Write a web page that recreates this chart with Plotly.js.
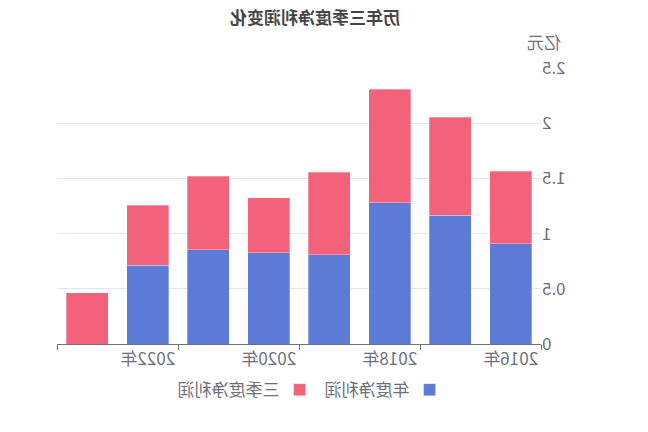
<!DOCTYPE html>
<html>
<head>
<meta charset="utf-8">
<script src="https://cdn.plot.ly/plotly-3.0.1.min.js"></script>
<style>
  html, body { margin: 0; padding: 0; background: #fff; }
  #chart { width: 648px; height: 432px; transform: scaleX(-1); }
</style>
</head>
<body>
<div id="chart"></div>
<script>
const years = ['2016年','2017年','2018年','2019年','2020年','2021年','2022年','2023年'];
const annualProfit = [0.909, 1.164, 1.279, 0.809, 0.827, 0.855, 0.712, null];
const q3Profit = [0.655, 0.891, 1.030, 0.746, 0.500, 0.663, 0.543, 0.464];
const yTicks = [0, 0.5, 1, 1.5, 2, 2.5];
const yTickText = ['0', '0.5', '1', '1.5', '2', '2.5'];

const font = '"Noto Sans CJK SC", "Noto Sans", sans-serif';

const traces = [
  { type: 'bar', name: '年度净利润', x: years, y: annualProfit,
    marker: { color: '#5b7bd6', line: { color: 'rgba(255,255,255,0.5)', width: 0.6 } }, hoverinfo: 'skip' },
  { type: 'bar', name: '三季度净利润', x: years, y: q3Profit,
    marker: { color: '#f2627b', line: { color: 'rgba(255,255,255,0.5)', width: 0.6 } }, hoverinfo: 'skip' }
];

const layout = {
  width: 648, height: 432,
  margin: { l: 107, r: 57, t: 68, b: 88 },
  paper_bgcolor: '#fff', plot_bgcolor: '#fff',
  barmode: 'stack', bargap: 0.3,
  font: { family: font, color: '#6e7079', size: 17 },
  title: { text: '历年三季度净利润变化', x: 0.514, xref: 'container', xanchor: 'center',
           y: 0.958, yref: 'container', yanchor: 'middle',
           font: { family: font, size: 17, color: '#464646', weight: 'bold' } },
  xaxis: {
    type: 'category', categoryorder: 'array', categoryarray: years,
    tickmode: 'linear', tick0: 0, dtick: 2, tickson: 'boundaries',
    ticks: 'outside', ticklen: 5, tickcolor: '#6e7079', tickangle: 0,
    showline: true, linecolor: '#6e7079', linewidth: 1,
    showgrid: false, zeroline: false,
    tickfont: { size: 17, color: '#6e7079' }
  },
  yaxis: {
    range: [0, 2.5], tickmode: 'array', tickvals: yTicks, ticktext: yTickText,
    showgrid: true, gridcolor: '#e0e6f1', gridwidth: 1,
    zeroline: false, showline: false, ticks: '',
    tickfont: { size: 17, color: '#6e7079' }
  },
  showlegend: true,
  legend: { orientation: 'h', x: 0.475, xanchor: 'center', y: -0.167, yanchor: 'middle',
            font: { size: 17, color: '#6e7079' }, traceorder: 'normal', itemwidth: 30 },
  annotations: [
    { text: '亿元', xref: 'paper', yref: 'paper', x: 0.033, y: 1.095,
      xanchor: 'right', yanchor: 'middle', showarrow: false,
      font: { size: 17, color: '#6e7079' } }
  ]
};

Plotly.newPlot('chart', traces, layout, { displayModeBar: false, staticPlot: true });
</script>
</body>
</html>
